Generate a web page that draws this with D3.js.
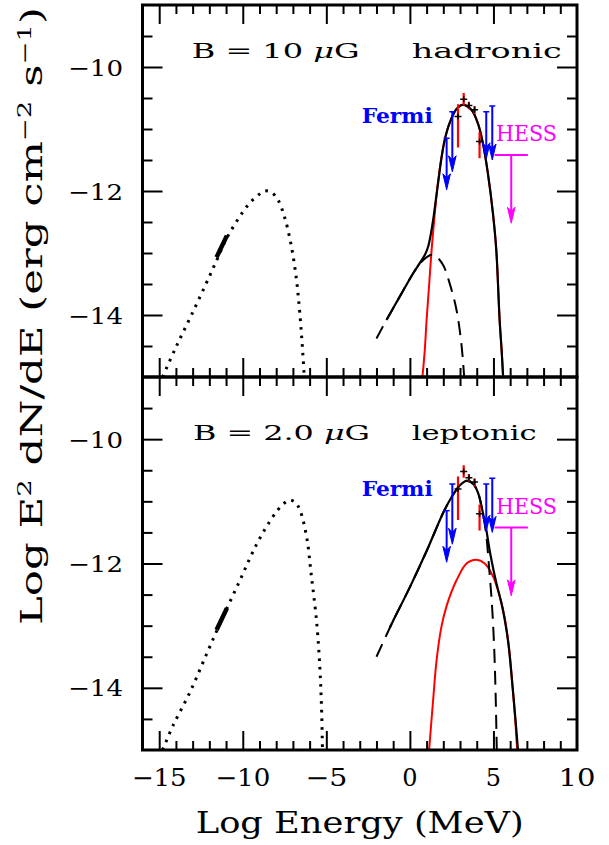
<!DOCTYPE html>
<html><head><meta charset="utf-8">
<script src="https://cdn.jsdelivr.net/npm/d3@7"></script>
<style>
html,body{margin:0;padding:0;background:#fff;}
svg{display:block;}
text{font-family:"DejaVu Serif",serif;fill:#000;}
</style></head><body>
<svg id="chart" width="609" height="845"></svg>
<script>
// ---- axis ticks and labels ----
const xMajorTicks = [-15, -10, -5, 0, 5, 10];
const xTickLabels = ["\u221215", "\u221210", "\u22125", "0", "5", "10"];
const yMajorTicks = [-14, -12, -10];
const yTickLabels = ["\u221214", "\u221212", "\u221210"];

// ---- hadronic model, B = 10 uG : [log E (MeV), log E^2 dN/dE] ----
const hadSync = [[-14.8,-15.0],[-14,-14.52],[-13,-13.96],[-12,-13.38],[-11.5,-13.08],[-11,-12.78],[-10,-12.34],[-9.5,-12.17],[-9,-12.05],[-8.7,-12.0],[-8.3,-12.02],[-7.9,-12.14],[-7.5,-12.42],[-7.1,-12.88],[-6.8,-13.4],[-6.6,-13.93],[-6.45,-14.45],[-6.32,-15.0]];
const hadIC = [[-2.0,-14.38],[-1.4,-14.08],[-0.6,-13.70],[0.19,-13.33],[0.6,-13.17],[0.99,-13.07],[1.3,-13.03],[1.55,-13.05],[1.98,-13.19],[2.38,-13.49],[2.79,-13.92],[3.08,-14.46],[3.25,-15.0]];
const hadPion = [[0.75,-15.0],[0.89,-14.57],[1.0,-14.08],[1.15,-13.52],[1.3,-12.95],[1.48,-12.39],[1.66,-11.9],[1.87,-11.5],[2.08,-11.18],[2.38,-10.9],[2.78,-10.68],[3.17,-10.61],[3.68,-10.69],[4.07,-10.91],[4.37,-11.23],[4.67,-11.72],[4.97,-12.36],[5.17,-12.95],[5.37,-14.08],[5.49,-14.57],[5.58,-15.0]];
const hadTotal = [[-1.4,-14.08],[-0.6,-13.70],[0.19,-13.33],[0.6,-13.16],[0.9,-13.03],[1.09,-12.9],[1.25,-12.7],[1.4,-12.45],[1.55,-12.15],[1.69,-11.87],[1.87,-11.5],[2.08,-11.18],[2.38,-10.9],[2.78,-10.68],[3.17,-10.61],[3.68,-10.69],[4.07,-10.91],[4.37,-11.23],[4.67,-11.72],[4.97,-12.36],[5.17,-12.95],[5.37,-14.08],[5.49,-14.57],[5.58,-15.0]];

// ---- leptonic model, B = 2.0 uG ----
const lepSync = [[-14.8,-15.0],[-14.16,-14.6],[-13.16,-14.07],[-12.17,-13.46],[-11.27,-12.91],[-10.17,-12.27],[-9.17,-11.69],[-8.18,-11.24],[-7.6,-11.05],[-7.18,-10.98],[-6.85,-11.02],[-6.58,-11.14],[-6.18,-11.57],[-5.89,-12.21],[-5.59,-12.91],[-5.39,-13.66],[-5.29,-14.3],[-5.23,-15.0]];
const lepIC = [[-2.0,-13.5],[-1.0,-12.92],[0,-12.38],[1,-11.8],[2,-11.18],[2.5,-10.93],[3.0,-10.74],[3.4,-10.67],[3.8,-10.72],[4.1,-10.88],[4.3,-11.1],[4.55,-11.5],[4.75,-12.1],[4.92,-12.7],[5.05,-13.4],[5.13,-14.1],[5.2,-15.0]];
const lepPion = [[1.15,-15.0],[1.39,-14.2],[1.6,-13.55],[1.9,-13.0],[2.19,-12.69],[2.5,-12.45],[2.79,-12.27],[3.39,-12.0],[3.99,-11.94],[4.48,-12.0],[4.98,-12.21],[5.38,-12.53],[5.68,-12.88],[5.95,-13.4],[6.15,-14.0],[6.3,-14.5],[6.42,-15.0]];
const lepTotal = [[-1.2,-13.03],[-1.0,-12.92],[0,-12.38],[1,-11.8],[2,-11.18],[2.5,-10.93],[3.0,-10.74],[3.4,-10.67],[3.8,-10.72],[4.1,-10.88],[4.3,-11.1],[4.55,-11.42],[4.78,-11.8],[5.0,-12.1],[5.18,-12.32],[5.48,-12.64],[5.68,-12.91],[5.9,-13.3],[6.1,-13.85],[6.3,-14.45],[6.47,-15.0]];

// ---- observations (same in both panels) ----
const radioSegment = [[-11.57,-13.07],[-10.95,-12.72]];
// gamma-ray points: [log E, value, error-bar top, error-bar bottom]
const gammaPoints = [[2.88,-10.8,-10.6,-11.3],[3.22,-10.52,-10.42,-10.62],[3.53,-10.62,-10.56,-10.68],[3.87,-10.69,-10.63,-10.76],[4.17,-11.2,-11.05,-11.47]];
// Fermi upper limits: [log E, top, arrow tip]
const fermiUL = [[2.2,-11.15,-11.98],[2.54,-10.72,-11.69],[4.57,-10.72,-11.48],[4.93,-10.63,-11.5]];
// HESS upper limit: [log E start, log E end, level, arrow tip]
const hessUL = [5.07, 7.06, -11.42, -12.52];

// ---- layout ----
const svg = d3.select("#chart");
const x = d3.scaleLinear().domain([-16, 10]).range([142.5, 577]);
const panels = [
  {y: d3.scaleLinear().domain([-15, -9]).range([377, 5]), sync: hadSync, ic: hadIC, pion: hadPion, total: hadTotal,
   bText: ["B = 10 ", "G"], bLen: 168, model: "hadronic", modelLen: 150, textY: 58.3, bX: 191.7},
  {y: d3.scaleLinear().domain([-15, -9]).range([750, 377]), sync: lepSync, ic: lepIC, pion: lepPion, total: lepTotal,
   bText: ["B = 2.0 ", "G"], bLen: 177, model: "leptonic", modelLen: 125, textY: 440, bX: 193}
];

const xMinor = d3.range(-15, 10).filter(v => v % 5 !== 0);
const xMajorInner = xMajorTicks.filter(v => v > -16 && v < 10);
const yMinor = d3.range(-14.5, -9, 0.5).filter(v => !yMajorTicks.includes(v));

const defs = svg.append("defs");

panels.forEach((p, i) => {
  const y = p.y;
  const top = y(-9), bot = y(-15);
  const clipId = "clip" + i;
  defs.append("clipPath").attr("id", clipId).append("rect")
    .attr("x", x(-16)).attr("y", top).attr("width", x(10) - x(-16)).attr("height", bot - top);

  const g = svg.append("g").attr("clip-path", `url(#${clipId})`);
  const line = d3.line().x(d => x(d[0])).y(d => y(d[1])).curve(d3.curveCatmullRom.alpha(0.5));

  // model curves
  g.append("path").attr("d", line(p.pion)).attr("fill", "none").attr("stroke", "#ff0000").attr("stroke-width", 2);
  g.append("path").attr("d", line(p.ic)).attr("fill", "none").attr("stroke", "#000").attr("stroke-width", 2)
    .attr("stroke-dasharray", "14 8");
  g.append("path").attr("d", line(p.total)).attr("fill", "none").attr("stroke", "#000").attr("stroke-width", 2.2);
  g.append("path").attr("d", line(p.sync)).attr("fill", "none").attr("stroke", "#000").attr("stroke-width", 3)
    .attr("stroke-dasharray", "2.6 6");

  // radio measurement
  g.append("path").attr("d", d3.line().x(d => x(d[0])).y(d => y(d[1]))(radioSegment))
    .attr("stroke", "#000").attr("stroke-width", 4.5).attr("fill", "none");

  // gamma-ray points
  gammaPoints.forEach(d => {
    g.append("line").attr("x1", x(d[0])).attr("x2", x(d[0])).attr("y1", y(d[2])).attr("y2", y(d[3]))
      .attr("stroke", "#ff0000").attr("stroke-width", 2.2);
    g.append("line").attr("x1", x(d[0]) - 3.5).attr("x2", x(d[0]) + 3.5).attr("y1", y(d[1])).attr("y2", y(d[1]))
      .attr("stroke", "#000").attr("stroke-width", 1.5);
    g.append("line").attr("x1", x(d[0])).attr("x2", x(d[0])).attr("y1", y(d[1]) - 3).attr("y2", y(d[1]) + 3)
      .attr("stroke", "#000").attr("stroke-width", 1.5);
  });

  // Fermi upper limits
  fermiUL.forEach(d => {
    const cx = x(d[0]), y0 = y(d[1]), y1 = y(d[2]);
    g.append("line").attr("x1", cx - 3).attr("x2", cx + 3).attr("y1", y0).attr("y2", y0)
      .attr("stroke", "#0000ff").attr("stroke-width", 1.5);
    g.append("line").attr("x1", cx).attr("x2", cx).attr("y1", y0).attr("y2", y1 - 10)
      .attr("stroke", "#0000ff").attr("stroke-width", 2);
    g.append("path").attr("d", `M${cx},${y1} L${cx - 3.8},${y1 - 16} L${cx},${y1 - 12} L${cx + 3.8},${y1 - 16} Z`)
      .attr("fill", "#0000ff").attr("stroke", "#0000ff").attr("stroke-width", 1);
  });

  // HESS upper limit
  {
    const hx = x((hessUL[0] + hessUL[1]) / 2), hy = y(hessUL[2]), ht = y(hessUL[3]);
    g.append("line").attr("x1", x(hessUL[0])).attr("x2", x(hessUL[1])).attr("y1", hy).attr("y2", hy)
      .attr("stroke", "#ff00ff").attr("stroke-width", 2);
    g.append("line").attr("x1", hx).attr("x2", hx).attr("y1", hy).attr("y2", ht - 10)
      .attr("stroke", "#ff00ff").attr("stroke-width", 2);
    g.append("path").attr("d", `M${hx},${ht} L${hx - 3.8},${ht - 16} L${hx},${ht - 12} L${hx + 3.8},${ht - 16} Z`)
      .attr("fill", "#ff00ff").attr("stroke", "#ff00ff").attr("stroke-width", 1);
  }

  // instrument labels
  svg.append("text").attr("x", 361.7).attr("y", y(-10.91)).attr("font-size", 20).attr("font-weight", "bold")
    .attr("fill", "#0000ff").style("fill", "#0000ff")
    .attr("textLength", 71).attr("lengthAdjust", "spacingAndGlyphs").text("Fermi");
  svg.append("text").attr("x", 496).attr("y", y(-11.2)).attr("font-size", 22)
    .style("fill", "#ff00ff")
    .attr("textLength", 61).attr("lengthAdjust", "spacingAndGlyphs").text("HESS");

  // panel annotations
  const bt = svg.append("text").attr("x", p.bX).attr("y", p.textY).attr("font-size", 20)
    .attr("textLength", p.bLen).attr("lengthAdjust", "spacingAndGlyphs");
  bt.append("tspan").text(p.bText[0]);
  bt.append("tspan").attr("font-style", "italic").text("\u03bc");
  bt.append("tspan").text(p.bText[1]);
  svg.append("text").attr("x", 411.7).attr("y", p.textY).attr("font-size", 20)
    .attr("textLength", p.modelLen).attr("lengthAdjust", "spacingAndGlyphs").text(p.model);

  // ticks on all four edges, pointing inward
  const tick = (axis, tx, ty) => {
    const a = svg.append("g").attr("transform", `translate(${tx},${ty})`).call(axis);
    a.select(".domain").remove();
    a.selectAll("line").attr("stroke", "#000").attr("stroke-width", 2);
    a.selectAll("text").remove();
  };
  tick(d3.axisBottom(x).tickValues(xMinor).tickSize(-9).tickSizeOuter(0).tickFormat(""), 0, bot);
  tick(d3.axisBottom(x).tickValues(xMajorInner).tickSize(-19).tickSizeOuter(0).tickFormat(""), 0, bot);
  tick(d3.axisTop(x).tickValues(xMinor).tickSize(-9).tickSizeOuter(0).tickFormat(""), 0, top);
  tick(d3.axisTop(x).tickValues(xMajorInner).tickSize(-19).tickSizeOuter(0).tickFormat(""), 0, top);
  tick(d3.axisLeft(y).tickValues(yMinor).tickSize(-10).tickSizeOuter(0).tickFormat(""), x(-16), 0);
  tick(d3.axisLeft(y).tickValues(yMajorTicks).tickSize(-20).tickSizeOuter(0).tickFormat(""), x(-16), 0);
  tick(d3.axisRight(y).tickValues(yMinor).tickSize(-10).tickSizeOuter(0).tickFormat(""), x(10), 0);
  tick(d3.axisRight(y).tickValues(yMajorTicks).tickSize(-20).tickSizeOuter(0).tickFormat(""), x(10), 0);

  // y tick labels
  yMajorTicks.forEach((v, k) => {
    svg.append("text").attr("x", 123).attr("y", y(v) + 8.5).attr("font-size", 23)
      .attr("text-anchor", "end").attr("textLength", 55).attr("lengthAdjust", "spacingAndGlyphs")
      .text(yTickLabels[k]);
  });

  // frame
  svg.append("rect").attr("x", x(-16)).attr("y", top).attr("width", x(10) - x(-16)).attr("height", bot - top)
    .attr("fill", "none").attr("stroke", "#000").attr("stroke-width", 3);
});

// x tick labels
const xLabelLen = {"\u221215": 55, "\u221210": 55, "\u22125": 42, "10": 37};
xMajorTicks.forEach((v, k) => {
  const t = svg.append("text").attr("x", x(v)).attr("y", 786).attr("font-size", 24)
    .attr("text-anchor", "middle").text(xTickLabels[k]);
  if (xLabelLen[xTickLabels[k]]) t.attr("textLength", xLabelLen[xTickLabels[k]]).attr("lengthAdjust", "spacingAndGlyphs");
});

// axis titles
svg.append("text").attr("x", (x(-16) + x(10)) / 2).attr("y", 833).attr("font-size", 30)
  .attr("text-anchor", "middle").attr("textLength", 328).attr("lengthAdjust", "spacingAndGlyphs")
  .text("Log Energy (MeV)");

const yt = svg.append("text").attr("transform", "translate(42,316) rotate(-90)").attr("font-size", 30)
  .attr("text-anchor", "middle").attr("textLength", 618).attr("lengthAdjust", "spacingAndGlyphs");
yt.append("tspan").text("Log E");
yt.append("tspan").attr("font-size", 19).attr("dy", -11).text("2");
yt.append("tspan").attr("dy", 11).text(" dN/dE (erg cm");
yt.append("tspan").attr("font-size", 19).attr("dy", -11).text("\u22122");
yt.append("tspan").attr("dy", 11).text(" s");
yt.append("tspan").attr("font-size", 19).attr("dy", -11).text("\u22121");
yt.append("tspan").attr("dy", 11).text(")");
</script>
</body></html>
